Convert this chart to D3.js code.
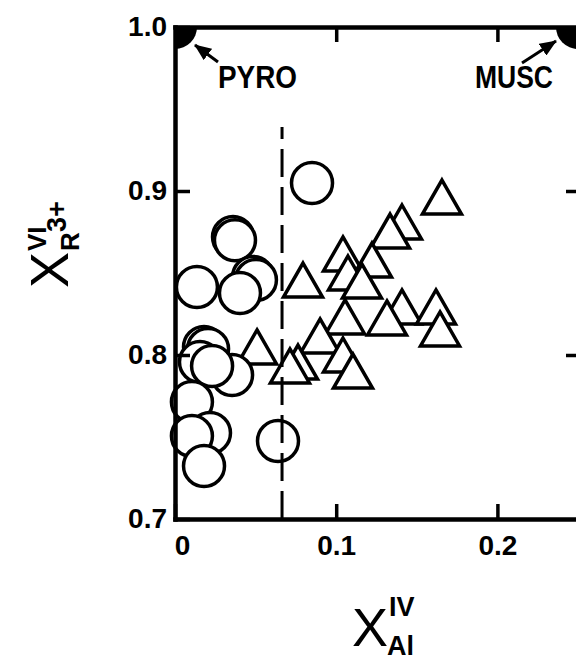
<!DOCTYPE html>
<html>
<head>
<meta charset="utf-8">
<script src="https://cdn.jsdelivr.net/npm/d3@7"></script>
<style>
  body { margin: 0; background: #fff; }
  svg text { font-family: "Liberation Sans", Arial, Helvetica, sans-serif; fill: #000; }
</style>
</head>
<body>
<script>
// tick values
var xTicks = [0, 0.1, 0.2];
var yTicks = [0.7, 0.8, 0.9, 1.0];

// open circles
var circleX = [0.036, 0.0372, 0.0484, 0.0502, 0.0136, 0.0403, 0.085,
               0.018, 0.0205, 0.0354, 0.0155, 0.023, 0.0105, 0.0217, 0.0105, 0.018, 0.0639];
var circleY = [0.872, 0.870, 0.8476, 0.8457, 0.8415, 0.8378, 0.9049,
               0.8049, 0.8037, 0.7878, 0.7957, 0.7933, 0.7713, 0.7524, 0.7506, 0.7323, 0.7476];

// open triangles
var triX = [0.1656, 0.1408, 0.1334, 0.1042, 0.1222, 0.1073, 0.0794, 0.116,
            0.1408, 0.1619, 0.1055, 0.1315, 0.1644, 0.0509, 0.0900, 0.1042, 0.0763, 0.0713, 0.1104];
var triY = [0.8963, 0.8811, 0.8756, 0.8616, 0.8579, 0.850, 0.8457, 0.8451,
            0.8293, 0.8293, 0.8232, 0.8226, 0.8159, 0.8049, 0.8116, 0.800, 0.7957, 0.7933, 0.7902];

// end members
var endNames = ["PYRO", "MUSC"];
var endX = [0, 0.25];
var endY = [1.0, 1.0];

// dashed divider
var dashX = 0.0664;
var dashY = [0.7, 0.939];

var w = 576, h = 663;

var svg = d3.select("body")
    .append("svg")
    .attr("width", w)
    .attr("height", h);

var x = d3.scaleLinear().domain([0, 0.25]).range([175, 578]);
var y = d3.scaleLinear().domain([0.7, 1.0]).range([519, 27]);

svg.append("defs").append("clipPath")
    .attr("id", "plot")
    .append("rect")
    .attr("x", x(0))
    .attr("y", y(1.0))
    .attr("width", x(0.25) - x(0))
    .attr("height", y(0.7) - y(1.0));

svg.select("defs").append("marker")
    .attr("id", "head")
    .attr("markerUnits", "userSpaceOnUse")
    .attr("markerWidth", 18)
    .attr("markerHeight", 14)
    .attr("refX", 16)
    .attr("refY", 7)
    .attr("orient", "auto")
    .append("path")
    .attr("d", "M0,0L17,7L0,14Z")
    .attr("fill", "#000");

var fmt = function(d) { return d === 0 ? "0" : d3.format(".1f")(d); };

function styleAxis(g, size) {
    g.attr("font-size", size)
        .attr("font-weight", "bold")
        .attr("font-family", "'Liberation Sans', Arial, sans-serif");
    g.select(".domain").attr("stroke-width", 4.5).attr("stroke-linecap", "square");
    g.selectAll(".tick line").attr("stroke-width", 3.5);
}

// markers first so the frame sits on top
var marks = svg.append("g");

var triType = {
    draw: function(ctx) {
        ctx.moveTo(0, -17);
        ctx.lineTo(19.5, 17);
        ctx.lineTo(-19.5, 17);
        ctx.closePath();
    }
};
var triangle = d3.symbol().type(triType);

marks.selectAll("path.tri")
    .data(d3.range(triX.length))
    .enter()
    .append("path")
    .attr("class", "tri")
    .attr("d", triangle)
    .attr("transform", function(i) { return "translate(" + x(triX[i]) + "," + y(triY[i]) + ")"; })
    .attr("fill", "#fff")
    .attr("stroke", "#000")
    .attr("stroke-width", 3.5)
    .attr("stroke-linejoin", "miter");

marks.selectAll("circle.ox")
    .data(d3.range(circleX.length))
    .enter()
    .append("circle")
    .attr("class", "ox")
    .attr("cx", function(i) { return x(circleX[i]); })
    .attr("cy", function(i) { return y(circleY[i]); })
    .attr("r", 20.5)
    .attr("fill", "#fff")
    .attr("stroke", "#000")
    .attr("stroke-width", 3.5);

svg.append("line")
    .attr("x1", x(dashX))
    .attr("x2", x(dashX))
    .attr("y1", y(dashY[0]))
    .attr("y2", y(dashY[1]))
    .attr("stroke", "#000")
    .attr("stroke-width", 3)
    .attr("stroke-dasharray", "28,10");

// end members
svg.append("g")
    .attr("clip-path", "url(#plot)")
    .selectAll("circle")
    .data(d3.range(endX.length))
    .enter()
    .append("circle")
    .attr("cx", function(i) { return x(endX[i]); })
    .attr("cy", function(i) { return y(endY[i]); })
    .attr("r", 22)
    .attr("fill", "#000");

// label offsets from each end member: text anchor, arrow tail, arrow tip
var lab = [
    { tx: 43, ty: 61, len: 79, ax: 43, ay: 35, bx: 20, by: 18 },
    { tx: -103, ty: 61, len: 78, ax: -56, ay: 36, bx: -22, by: 14 }
];

endNames.forEach(function(name, i) {
    var px = x(endX[i]), py = y(endY[i]), o = lab[i];
    svg.append("text")
        .attr("x", px + o.tx)
        .attr("y", py + o.ty)
        .attr("font-size", 31)
        .attr("font-weight", "bold")
        .attr("textLength", o.len)
        .attr("lengthAdjust", "spacingAndGlyphs")
        .text(name);
    svg.append("line")
        .attr("x1", px + o.ax)
        .attr("y1", py + o.ay)
        .attr("x2", px + o.bx)
        .attr("y2", py + o.by)
        .attr("stroke", "#000")
        .attr("stroke-width", 3)
        .attr("marker-end", "url(#head)");
});

// axes (ticks point inward)
var gL = svg.append("g")
    .attr("transform", "translate(" + x(0) + ",0)")
    .call(d3.axisLeft(y).tickValues(yTicks).tickSizeInner(-15).tickSizeOuter(0)
        .tickPadding(8).tickFormat(d3.format(".1f")));
styleAxis(gL, 28);

var gB = svg.append("g")
    .attr("transform", "translate(0," + y(0.7) + ")")
    .call(d3.axisBottom(x).tickValues(xTicks).tickSizeInner(-15).tickSizeOuter(0)
        .tickPadding(16).tickFormat(fmt));
styleAxis(gB, 28);
gB.selectAll(".tick text").attr("dx", function(d) { return d === 0 ? 7 : 0; });

var gT = svg.append("g")
    .attr("transform", "translate(0," + y(1.0) + ")")
    .call(d3.axisTop(x).tickValues(xTicks.slice(1)).tickSizeInner(-15).tickSizeOuter(0)
        .tickFormat(""));
styleAxis(gT, 28);

var gR = svg.append("g")
    .attr("transform", "translate(" + x(0.25) + ",0)")
    .call(d3.axisRight(y).tickValues(yTicks.slice(1, 3)).tickSizeInner(-12).tickSizeOuter(0)
        .tickFormat(""));
styleAxis(gR, 28);

// y title: X^VI_{R3+}
var yt = svg.append("g").attr("transform", "translate(68,288) rotate(-90)");
yt.append("text").attr("x", 0).attr("y", 0).attr("font-size", 54).text("X");
yt.append("text").attr("x", 37).attr("y", -22).attr("font-size", 26).attr("font-weight", "bold").text("VI");
yt.append("text").attr("x", 37).attr("y", 11).attr("font-size", 26).attr("font-weight", "bold").text("R");
yt.append("text").attr("x", 56).attr("y", -2).attr("font-size", 27).attr("font-weight", "bold").text("3+");

// x title: X^IV_Al
var xt = svg.append("g").attr("transform", "translate(352,646)");
xt.append("text").attr("x", 0).attr("y", 0).attr("font-size", 54).text("X");
xt.append("text").attr("x", 37).attr("y", -30).attr("font-size", 27).attr("font-weight", "bold").text("IV");
xt.append("text").attr("x", 35).attr("y", 9).attr("font-size", 27).attr("font-weight", "bold").text("Al");
</script>
</body>
</html>
